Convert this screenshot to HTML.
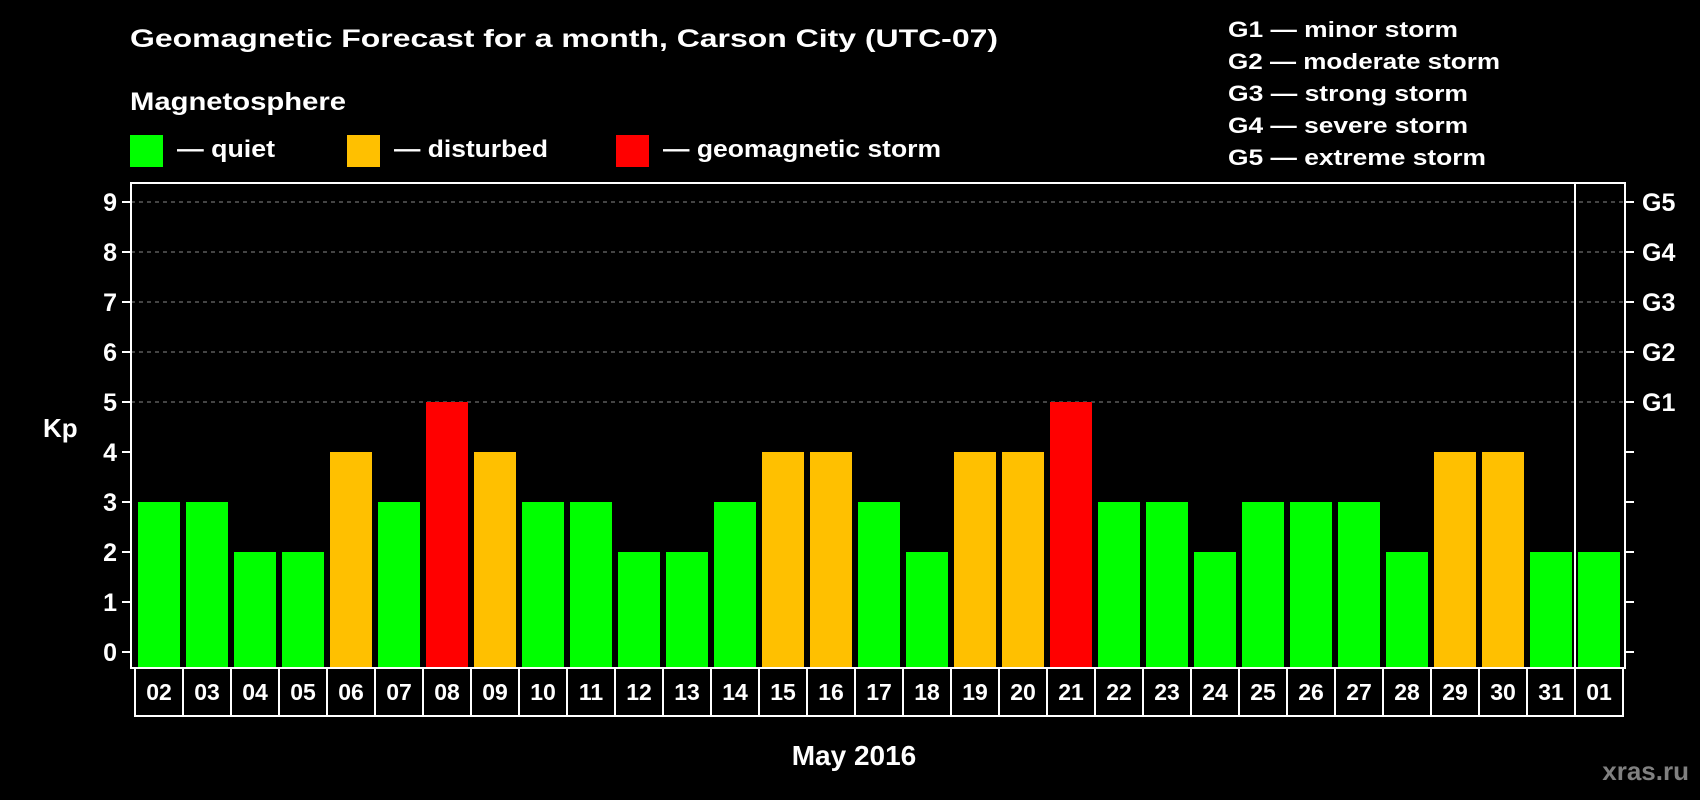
<!DOCTYPE html>
<html><head><meta charset="utf-8"><style>
html,body{margin:0;padding:0;background:#000;}
svg{display:block;font-family:"Liberation Sans",Arial,sans-serif;font-weight:bold;}
</style></head><body>
<svg id="chart" width="1700" height="800" viewBox="0 0 1700 800" xmlns="http://www.w3.org/2000/svg">
<rect width="1700" height="800" fill="#000"/>
<text x="130" y="47" fill="#fff" font-size="25" textLength="868" lengthAdjust="spacingAndGlyphs">Geomagnetic Forecast for a month, Carson City (UTC-07)</text>
<text x="130" y="110" fill="#fff" font-size="25" textLength="216" lengthAdjust="spacingAndGlyphs">Magnetosphere</text>
<g><rect x="130" y="135" width="33" height="32" fill="#00ff00"/><text x="177" y="157" fill="#fff" font-size="24" textLength="98" lengthAdjust="spacingAndGlyphs">— quiet</text></g>
<g><rect x="347" y="135" width="33" height="32" fill="#ffc000"/><text x="394" y="157" fill="#fff" font-size="24" textLength="154" lengthAdjust="spacingAndGlyphs">— disturbed</text></g>
<g><rect x="616" y="135" width="33" height="32" fill="#ff0000"/><text x="663" y="157" fill="#fff" font-size="24" textLength="278" lengthAdjust="spacingAndGlyphs">— geomagnetic storm</text></g>
<g fill="#fff" font-size="22">
<text x="1228" y="37" textLength="230" lengthAdjust="spacingAndGlyphs">G1 — minor storm</text>
<text x="1228" y="69" textLength="272" lengthAdjust="spacingAndGlyphs">G2 — moderate storm</text>
<text x="1228" y="101" textLength="240" lengthAdjust="spacingAndGlyphs">G3 — strong storm</text>
<text x="1228" y="133" textLength="240" lengthAdjust="spacingAndGlyphs">G4 — severe storm</text>
<text x="1228" y="165" textLength="258" lengthAdjust="spacingAndGlyphs">G5 — extreme storm</text>
</g>
<text x="43" y="437" fill="#fff" font-size="26">Kp</text>
<g id="grid"></g><g id="bars"></g><g id="axes"></g>
<text x="854" y="765" fill="#fff" font-size="28" text-anchor="middle">May 2016</text>
<text x="1689" y="780" fill="#808080" font-size="26" text-anchor="end">xras.ru</text>
</svg>
<script>
const days = ["02","03","04","05","06","07","08","09","10","11","12","13","14","15","16","17","18","19","20","21","22","23","24","25","26","27","28","29","30","31","01"];
const kpValues = [3,3,2,2,4,3,5,4,3,3,2,2,3,4,4,3,2,4,4,5,3,3,2,3,3,3,2,4,4,2,2];
const yTicks = [0,1,2,3,4,5,6,7,8,9];
const gLabels = ["G1","G2","G3","G4","G5"];
const NS="http://www.w3.org/2000/svg";
const X0=135, SLOT=48, PL=131, PR=1625, PT=183, PB=668, Y0=652, UNIT=50;
function y(v){return Y0-v*UNIT;}
function x(i){return X0+i*SLOT;}
function mk(tag,attrs,parent){const e=document.createElementNS(NS,tag);for(const k in attrs)e.setAttribute(k,attrs[k]);parent.appendChild(e);return e;}
const grid=document.getElementById('grid'),bars=document.getElementById('bars'),axes=document.getElementById('axes');
yTicks.forEach(v=>{
  if(v>=5){const g=mk('line',{x1:PL,x2:PR,y1:y(v),y2:y(v),stroke:'#888','stroke-width':1,'stroke-dasharray':'4,4'},grid);
    
    }
  const t=mk('line',{x1:PL-9,x2:PL,y1:y(v),y2:y(v),stroke:'#fff','stroke-width':2},axes);
  
  
  const t2=mk('line',{x1:PR,x2:PR+9,y1:y(v),y2:y(v),stroke:'#fff','stroke-width':2},axes);
  
  
  const l=mk('text',{x:117,y:y(v)+9,fill:'#fff','font-size':25,'text-anchor':'end'},axes);
  l.textContent=v;
  
  
});
gLabels.forEach((g,i)=>{
  const l=mk('text',{x:1642,y:y(5+i)+9,fill:'#fff','font-size':25},axes);
  l.textContent=g;
  
  
});
kpValues.forEach((v,i)=>{
  const c=v>=5?'#ff0000':(v>=4?'#ffc000':'#00ff00');
  const b=mk('rect',{x:x(i)+3,y:y(v),width:42,height:PB-1-y(v),fill:c},bars);
  
  
  const bx=mk('rect',{x:x(i),y:PB,width:SLOT,height:48,fill:'none',stroke:'#fff','stroke-width':2},axes);
  
  
  const t=mk('text',{x:x(i)+SLOT/2,y:700,fill:'#fff','font-size':23,'text-anchor':'middle'},axes);
  t.textContent=days[i];
  
  
});
const f=mk('rect',{x:PL,y:PT,width:PR-PL,height:PB-PT,fill:'none',stroke:'#fff','stroke-width':2},axes);


const s=mk('line',{x1:x(30),x2:x(30),y1:PT,y2:PB,stroke:'#fff','stroke-width':2},axes);


</script>
</body></html>
